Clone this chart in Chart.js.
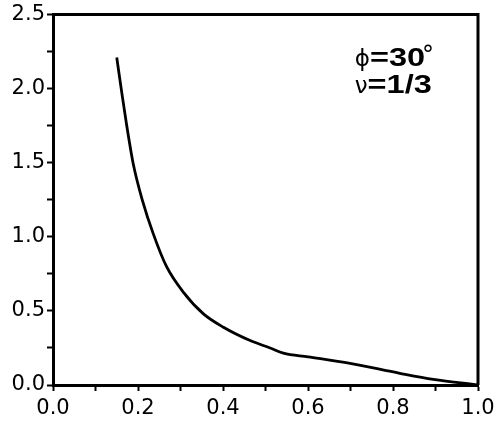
<!DOCTYPE html>
<html>
<head>
<meta charset="utf-8">
<script src="https://cdn.jsdelivr.net/npm/chart.js@4"></script>
<style>
  html, body { margin: 0; padding: 0; background: #fff; }
  #wrap { width: 500px; height: 431px; }
</style>
</head>
<body>
<div id="wrap"><canvas id="curveChart" width="500" height="431"></canvas></div>
<script>
// values
const xValues = [0.15, 0.162, 0.173, 0.189, 0.210, 0.236, 0.267, 0.307, 0.354, 0.401, 0.464, 0.511, 0.542, 0.60, 0.699, 0.816, 0.895, 1.0];
const yValues = [2.21, 1.97, 1.76, 1.49, 1.25, 1.02, 0.80, 0.625, 0.48, 0.39, 0.30, 0.25, 0.215, 0.19, 0.146, 0.079, 0.038, 0.0];
const labelLine1 = ['ϕ', '=30', '°'];
const labelLine2 = ['ν', '=1/3'];

const points = xValues.map((x, i) => ({ x: x, y: yValues[i] }));

const frame = {
    id: 'frame',
    afterDraw(chart) {
        const { ctx, chartArea: a } = chart;
        ctx.save();
        ctx.strokeStyle = '#000';
        ctx.lineWidth = 3;
        ctx.beginPath();
        ctx.moveTo(a.left, a.top);
        ctx.lineTo(a.right, a.top);
        ctx.lineTo(a.right, a.bottom);
        ctx.stroke();
        ctx.restore();
    }
};

const note = {
    id: 'note',
    afterDraw(chart) {
        const ctx = chart.ctx;
        const sx = chart.scales.x, sy = chart.scales.y;
        const x0 = sx.getPixelForValue(0.71);
        const y1 = sy.getPixelForValue(2.15);
        const y2 = sy.getPixelForValue(1.97);
        ctx.save();
        ctx.fillStyle = '#000';
        ctx.textBaseline = 'alphabetic';
        // line 1
        let x = x0;
        ctx.font = '23px "DejaVu Sans"';
        ctx.fillText(labelLine1[0], x, y1);
        x += ctx.measureText(labelLine1[0]).width;
        ctx.font = 'bold 25px "Liberation Sans"';
        ctx.save();
        ctx.translate(x, y1);
        ctx.scale(1.3, 1);
        ctx.fillText(labelLine1[1], 0, 0);
        const w1 = ctx.measureText(labelLine1[1]).width * 1.3;
        ctx.restore();
        x += w1;
        ctx.font = '24px "DejaVu Sans"';
        ctx.fillText(labelLine1[2], x - 3, y1 - 3);
        // line 2
        x = x0;
        ctx.font = '23px "DejaVu Sans"';
        ctx.fillText(labelLine2[0], x, y2);
        x += ctx.measureText(labelLine2[0]).width;
        ctx.font = 'bold 25px "Liberation Sans"';
        ctx.translate(x, y2);
        ctx.scale(1.3, 1);
        ctx.fillText(labelLine2[1], 0, 0);
        ctx.restore();
    }
};

const ctx = document.getElementById('curveChart').getContext('2d');
new Chart(ctx, {
    type: 'scatter',
    data: {
        datasets: [{
            data: points,
            showLine: true,
            borderColor: '#000',
            borderWidth: 2.8,
            pointRadius: 0,
            cubicInterpolationMode: 'monotone',
            fill: false
        }]
    },
    options: {
        responsive: false,
        devicePixelRatio: 1,
        animation: false,
        layout: { padding: { top: 14, right: 22, left: 0, bottom: 0 } },
        plugins: { legend: { display: false }, tooltip: { enabled: false } },
        scales: {
            x: {
                type: 'linear',
                min: 0, max: 1,
                afterFit(scale) { scale.height = 46; },
                grid: { drawOnChartArea: false, drawTicks: true, tickLength: 6, tickWidth: 2, color: '#000' },
                border: { display: true, color: '#000', width: 3 },
                ticks: {
                    stepSize: 0.1,
                    autoSkip: false,
                    maxRotation: 0,
                    padding: 5,
                    color: '#000',
                    font: { family: '"DejaVu Sans"', size: 21 },
                    callback: v => Math.round(v * 10) % 2 === 0 ? v.toFixed(1) : ''
                }
            },
            y: {
                type: 'linear',
                min: 0, max: 2.5,
                afterFit(scale) { scale.width = 53; },
                grid: { drawOnChartArea: false, drawTicks: true, tickLength: 6, tickWidth: 2, color: '#000' },
                border: { display: true, color: '#000', width: 3 },
                ticks: {
                    stepSize: 0.25,
                    autoSkip: false,
                    padding: 2,
                    color: '#000',
                    font: { family: '"DejaVu Sans"', size: 21 },
                    callback: v => Math.round(v * 4) % 2 === 0 ? v.toFixed(1) : ''
                }
            }
        }
    },
    plugins: [frame, note]
});
</script>
</body>
</html>
